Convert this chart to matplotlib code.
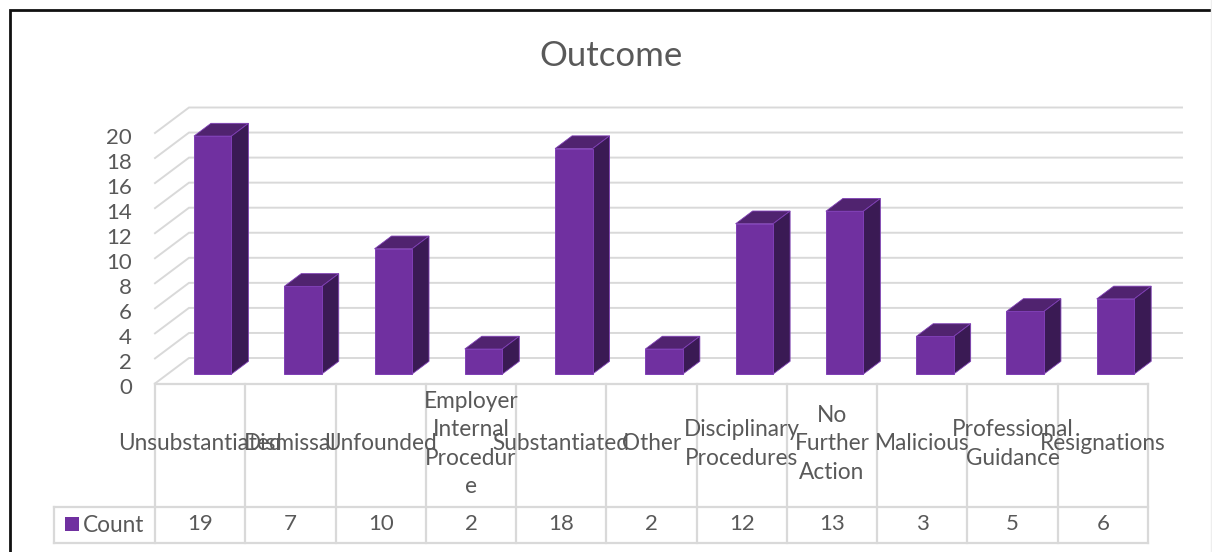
import matplotlib
matplotlib.use('Agg')
import matplotlib.pyplot as plt
from matplotlib.patches import Rectangle

plt.rcParams['font.family'] = ['Lato', 'DejaVu Sans']

categories = ['Unsubstantiated', 'Dismissal', 'Unfounded', 'Employer\nInternal\nProcedur\ne',
              'Substantiated', 'Other', 'Disciplinary\nProcedures', 'No\nFurther\nAction',
              'Malicious', 'Professional\nGuidance', 'Resignations']
counts = [19, 7, 10, 2, 18, 2, 12, 13, 3, 5, 6]
y_ticks = list(range(0, 21, 2))
series_name = 'Count'

W, H = 1212, 552
TEXT = '#595959'
GRID = '#D9D9D9'
FRONT = '#7030A0'
TOP = '#50236F'
SIDE = '#3A1A54'
EDGE = '#7F3FB5'

# front plane of the 3d box in pixels
LEFT, RIGHT, BASE, TOP_Y = 155, 1148, 383.5, 133
TABLE_MID, TABLE_BOT, LEGEND_L = 506.5, 542.5, 54

fig = plt.figure(figsize=(W / 100, H / 100), dpi=100)
ax = fig.add_axes([LEFT / W, 1 - BASE / H, (RIGHT - LEFT) / W, (BASE - TOP_Y) / H])
ax.set_xlim(0, len(categories))
ax.set_ylim(0, 20)
ax.axis('off')

# depth of the box in data units
unit_x = (RIGHT - LEFT) / len(categories)
unit_y = (BASE - TOP_Y) / 20
depth_x = 34 / unit_x
depth_y = 25.5 / unit_y
bar_w = 37.5 / unit_x
near = 0.37  # where the bars sit inside the depth
far = 0.87

# walls
for v in y_ticks:
    ax.plot([0, depth_x, len(categories) + depth_x], [v, v + depth_y, v + depth_y],
            color=GRID, lw=1.4, clip_on=False, zorder=1, solid_joinstyle='miter')
    ax.annotate(str(v), (0, v), xytext=(-23, -5), textcoords='offset pixels',
                ha='right', va='center', fontsize=16, color=TEXT, annotation_clip=False)

# bars, front face plus top and side
for i, c in enumerate(counts):
    x0 = i + 0.5 - bar_w / 2 + near * depth_x
    y0 = near * depth_y
    x1 = x0 + bar_w
    dx = (far - near) * depth_x
    dy = (far - near) * depth_y
    ax.bar(x0, c, bar_w, bottom=y0, align='edge', color=FRONT, edgecolor=EDGE, lw=0.7,
           clip_on=False, zorder=3)
    ax.fill([x0, x0 + dx, x1 + dx, x1], [y0 + c, y0 + c + dy, y0 + c + dy, y0 + c],
            facecolor=TOP, edgecolor=EDGE, lw=0.6, clip_on=False, zorder=2)
    ax.fill([x1, x1 + dx, x1 + dx, x1], [y0, y0 + dy, y0 + c + dy, y0 + c],
            facecolor=SIDE, edgecolor=EDGE, lw=0.6, clip_on=False, zorder=2)

# overlay in pixels for frame, title and data table
over = fig.add_axes([0, 0, 1, 1], facecolor='none')
over.set_xlim(0, W)
over.set_ylim(H, 0)
over.axis('off')

over.plot([9.5, 9.5, W], [H, 10, 10], color='#111111', lw=2, solid_joinstyle='miter')
over.plot([1211, 1211], [0, H], color='#EEEEEE', lw=1)
over.text(611, 56, 'Outcome', ha='center', va='center', fontsize=25, color=TEXT)

cell = (RIGHT - LEFT) / len(categories)
over.plot([LEFT, RIGHT], [BASE, BASE], color=GRID, lw=1.6)
over.plot([LEGEND_L, RIGHT], [TABLE_MID, TABLE_MID], color=GRID, lw=1.6)
over.plot([LEGEND_L, RIGHT], [TABLE_BOT, TABLE_BOT], color=GRID, lw=1.6)
over.plot([LEGEND_L, LEGEND_L], [TABLE_MID, TABLE_BOT], color=GRID, lw=1.6)
for i in range(len(categories) + 1):
    over.plot([LEFT + i * cell] * 2, [BASE, TABLE_BOT], color=GRID, lw=1.6)

for i, (name, c) in enumerate(zip(categories, counts)):
    mid = LEFT + (i + 0.5) * cell
    over.text(mid, 444, name, ha='center', va='center', fontsize=16.3, color=TEXT,
              linespacing=1.45)
    over.text(mid, 524, str(c), ha='center', va='center', fontsize=16, color=TEXT)

over.add_patch(Rectangle((65, 517), 14, 14, facecolor=FRONT, edgecolor='none'))
over.text(83, 525, series_name, ha='left', va='center', fontsize=16.3, color=TEXT)

fig.savefig('out.png', dpi=100)
